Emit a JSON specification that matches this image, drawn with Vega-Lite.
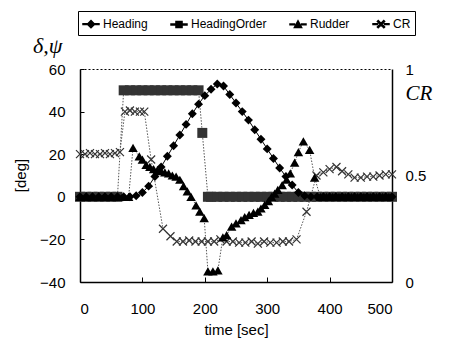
{
  "$schema": "https://vega.github.io/schema/vega-lite/v6.json",
  "width": 312,
  "height": 213,
  "autosize": {"type": "none"},
  "padding": {"left": 80, "top": 69, "right": 78, "bottom": 60},
  "background": "white",
  "title": {"text": "δ,ψ", "anchor": "start", "frame": "group", "dx": -47, "offset": -47, "font": "Liberation Serif", "fontStyle": "italic", "fontSize": 22, "fontWeight": "normal", "color": "black"},
  "config": {
    "view": {"stroke": null},
    "axis": {"domainColor": "black", "domainWidth": 1.5, "labelColor": "black", "labelFont": "Liberation Sans", "labelFontSize": 15, "tickColor": "black", "grid": false, "titleFont": "Liberation Sans", "titleFontSize": 15, "titleFontWeight": "normal", "titleColor": "black"},
    "legend": {"labelFont": "Liberation Sans", "labelFontSize": 12, "labelColor": "black"}
  },
  "datasets": {
    "deg": [
      {"s": "HeadingOrder", "t": 0, "v": 0}, {"s": "HeadingOrder", "t": 10, "v": 0}, {"s": "HeadingOrder", "t": 20, "v": 0}, {"s": "HeadingOrder", "t": 30, "v": 0}, {"s": "HeadingOrder", "t": 40, "v": 0}, {"s": "HeadingOrder", "t": 50, "v": 0}, {"s": "HeadingOrder", "t": 60, "v": 0},
      {"s": "HeadingOrder", "t": 70, "v": 50}, {"s": "HeadingOrder", "t": 80, "v": 50}, {"s": "HeadingOrder", "t": 90, "v": 50}, {"s": "HeadingOrder", "t": 100, "v": 50}, {"s": "HeadingOrder", "t": 110, "v": 50}, {"s": "HeadingOrder", "t": 120, "v": 50}, {"s": "HeadingOrder", "t": 130, "v": 50}, {"s": "HeadingOrder", "t": 140, "v": 50}, {"s": "HeadingOrder", "t": 150, "v": 50}, {"s": "HeadingOrder", "t": 160, "v": 50}, {"s": "HeadingOrder", "t": 170, "v": 50}, {"s": "HeadingOrder", "t": 180, "v": 50}, {"s": "HeadingOrder", "t": 190, "v": 50},
      {"s": "HeadingOrder", "t": 196, "v": 30},
      {"s": "HeadingOrder", "t": 205, "v": 0}, {"s": "HeadingOrder", "t": 210, "v": 0}, {"s": "HeadingOrder", "t": 220, "v": 0}, {"s": "HeadingOrder", "t": 230, "v": 0}, {"s": "HeadingOrder", "t": 240, "v": 0}, {"s": "HeadingOrder", "t": 250, "v": 0}, {"s": "HeadingOrder", "t": 260, "v": 0}, {"s": "HeadingOrder", "t": 270, "v": 0}, {"s": "HeadingOrder", "t": 280, "v": 0}, {"s": "HeadingOrder", "t": 290, "v": 0}, {"s": "HeadingOrder", "t": 300, "v": 0}, {"s": "HeadingOrder", "t": 310, "v": 0}, {"s": "HeadingOrder", "t": 320, "v": 0}, {"s": "HeadingOrder", "t": 330, "v": 0}, {"s": "HeadingOrder", "t": 340, "v": 0}, {"s": "HeadingOrder", "t": 350, "v": 0}, {"s": "HeadingOrder", "t": 360, "v": 0}, {"s": "HeadingOrder", "t": 370, "v": 0}, {"s": "HeadingOrder", "t": 380, "v": 0}, {"s": "HeadingOrder", "t": 390, "v": 0}, {"s": "HeadingOrder", "t": 400, "v": 0}, {"s": "HeadingOrder", "t": 410, "v": 0}, {"s": "HeadingOrder", "t": 420, "v": 0}, {"s": "HeadingOrder", "t": 430, "v": 0}, {"s": "HeadingOrder", "t": 440, "v": 0}, {"s": "HeadingOrder", "t": 450, "v": 0}, {"s": "HeadingOrder", "t": 460, "v": 0}, {"s": "HeadingOrder", "t": 470, "v": 0}, {"s": "HeadingOrder", "t": 480, "v": 0}, {"s": "HeadingOrder", "t": 490, "v": 0}, {"s": "HeadingOrder", "t": 500, "v": 0},

      {"s": "Rudder", "t": 0, "v": 0}, {"s": "Rudder", "t": 10, "v": 0}, {"s": "Rudder", "t": 20, "v": 0}, {"s": "Rudder", "t": 30, "v": 0}, {"s": "Rudder", "t": 40, "v": 0}, {"s": "Rudder", "t": 50, "v": 0}, {"s": "Rudder", "t": 60, "v": 0}, {"s": "Rudder", "t": 70, "v": 0}, {"s": "Rudder", "t": 78, "v": 0},
      {"s": "Rudder", "t": 85, "v": 23}, {"s": "Rudder", "t": 95, "v": 19}, {"s": "Rudder", "t": 100, "v": 17.5}, {"s": "Rudder", "t": 106, "v": 15}, {"s": "Rudder", "t": 112, "v": 14}, {"s": "Rudder", "t": 118, "v": 13}, {"s": "Rudder", "t": 124, "v": 12.5}, {"s": "Rudder", "t": 130, "v": 12}, {"s": "Rudder", "t": 136, "v": 11.5}, {"s": "Rudder", "t": 142, "v": 11}, {"s": "Rudder", "t": 148, "v": 10}, {"s": "Rudder", "t": 154, "v": 9.5}, {"s": "Rudder", "t": 160, "v": 8}, {"s": "Rudder", "t": 166, "v": 5}, {"s": "Rudder", "t": 172, "v": 2.5}, {"s": "Rudder", "t": 178, "v": 0}, {"s": "Rudder", "t": 186, "v": -4}, {"s": "Rudder", "t": 192, "v": -7}, {"s": "Rudder", "t": 199, "v": -10},
      {"s": "Rudder", "t": 205, "v": -35}, {"s": "Rudder", "t": 213, "v": -35}, {"s": "Rudder", "t": 221, "v": -34.5}, {"s": "Rudder", "t": 229, "v": -19}, {"s": "Rudder", "t": 235, "v": -18}, {"s": "Rudder", "t": 243, "v": -14}, {"s": "Rudder", "t": 250, "v": -12.5}, {"s": "Rudder", "t": 258, "v": -11}, {"s": "Rudder", "t": 264, "v": -9.5}, {"s": "Rudder", "t": 271, "v": -8.5}, {"s": "Rudder", "t": 278, "v": -7.5}, {"s": "Rudder", "t": 285, "v": -7}, {"s": "Rudder", "t": 290, "v": -5.5}, {"s": "Rudder", "t": 296, "v": -3.8}, {"s": "Rudder", "t": 302, "v": -2}, {"s": "Rudder", "t": 307, "v": 0}, {"s": "Rudder", "t": 312, "v": 1.5}, {"s": "Rudder", "t": 317, "v": 3.3}, {"s": "Rudder", "t": 324, "v": 5.5}, {"s": "Rudder", "t": 331, "v": 8}, {"s": "Rudder", "t": 337, "v": 11}, {"s": "Rudder", "t": 344, "v": 16}, {"s": "Rudder", "t": 350, "v": 21}, {"s": "Rudder", "t": 358, "v": 26}, {"s": "Rudder", "t": 368, "v": 22}, {"s": "Rudder", "t": 376, "v": 9},
      {"s": "Rudder", "t": 385, "v": 0}, {"s": "Rudder", "t": 395, "v": 0}, {"s": "Rudder", "t": 405, "v": 0}, {"s": "Rudder", "t": 415, "v": 0}, {"s": "Rudder", "t": 425, "v": 0}, {"s": "Rudder", "t": 435, "v": 0}, {"s": "Rudder", "t": 445, "v": 0}, {"s": "Rudder", "t": 455, "v": 0}, {"s": "Rudder", "t": 465, "v": 0}, {"s": "Rudder", "t": 475, "v": 0}, {"s": "Rudder", "t": 485, "v": 0}, {"s": "Rudder", "t": 495, "v": 0},

      {"s": "Heading", "t": 0, "v": 0}, {"s": "Heading", "t": 10, "v": 0}, {"s": "Heading", "t": 20, "v": 0}, {"s": "Heading", "t": 30, "v": 0}, {"s": "Heading", "t": 40, "v": 0}, {"s": "Heading", "t": 50, "v": 0}, {"s": "Heading", "t": 60, "v": 0}, {"s": "Heading", "t": 70, "v": 0}, {"s": "Heading", "t": 80, "v": 0},
      {"s": "Heading", "t": 90, "v": 0.5}, {"s": "Heading", "t": 100, "v": 2}, {"s": "Heading", "t": 110, "v": 5}, {"s": "Heading", "t": 120, "v": 9.5}, {"s": "Heading", "t": 130, "v": 14}, {"s": "Heading", "t": 140, "v": 19}, {"s": "Heading", "t": 150, "v": 24}, {"s": "Heading", "t": 160, "v": 29}, {"s": "Heading", "t": 170, "v": 34}, {"s": "Heading", "t": 180, "v": 39}, {"s": "Heading", "t": 190, "v": 43.5}, {"s": "Heading", "t": 200, "v": 47.5}, {"s": "Heading", "t": 210, "v": 50.5}, {"s": "Heading", "t": 220, "v": 53}, {"s": "Heading", "t": 230, "v": 52}, {"s": "Heading", "t": 240, "v": 48}, {"s": "Heading", "t": 250, "v": 44}, {"s": "Heading", "t": 260, "v": 40}, {"s": "Heading", "t": 270, "v": 36}, {"s": "Heading", "t": 280, "v": 31.5}, {"s": "Heading", "t": 290, "v": 27}, {"s": "Heading", "t": 300, "v": 22.5}, {"s": "Heading", "t": 310, "v": 18}, {"s": "Heading", "t": 320, "v": 13.5}, {"s": "Heading", "t": 330, "v": 9.5}, {"s": "Heading", "t": 340, "v": 5.5}, {"s": "Heading", "t": 350, "v": 2}, {"s": "Heading", "t": 360, "v": 0.5},
      {"s": "Heading", "t": 370, "v": 0}, {"s": "Heading", "t": 380, "v": 0}, {"s": "Heading", "t": 390, "v": 0}, {"s": "Heading", "t": 400, "v": 0}, {"s": "Heading", "t": 410, "v": 0}, {"s": "Heading", "t": 420, "v": 0}, {"s": "Heading", "t": 430, "v": 0}, {"s": "Heading", "t": 440, "v": 0}, {"s": "Heading", "t": 450, "v": 0}, {"s": "Heading", "t": 460, "v": 0}, {"s": "Heading", "t": 470, "v": 0}, {"s": "Heading", "t": 480, "v": 0}, {"s": "Heading", "t": 490, "v": 0}, {"s": "Heading", "t": 500, "v": 0}
    ],
    "cr": [
      {"t": 0, "cr": 0.6}, {"t": 8, "cr": 0.6}, {"t": 16, "cr": 0.605}, {"t": 24, "cr": 0.6}, {"t": 32, "cr": 0.6}, {"t": 40, "cr": 0.605}, {"t": 48, "cr": 0.6}, {"t": 56, "cr": 0.605}, {"t": 64, "cr": 0.61},
      {"t": 72, "cr": 0.8}, {"t": 80, "cr": 0.805}, {"t": 88, "cr": 0.8}, {"t": 96, "cr": 0.8}, {"t": 103, "cr": 0.8},
      {"t": 114, "cr": 0.575}, {"t": 133, "cr": 0.25}, {"t": 145, "cr": 0.215}, {"t": 155, "cr": 0.19}, {"t": 165, "cr": 0.19}, {"t": 175, "cr": 0.195}, {"t": 185, "cr": 0.19}, {"t": 195, "cr": 0.19}, {"t": 205, "cr": 0.19}, {"t": 215, "cr": 0.19}, {"t": 225, "cr": 0.2}, {"t": 235, "cr": 0.19}, {"t": 245, "cr": 0.19}, {"t": 255, "cr": 0.185}, {"t": 265, "cr": 0.185}, {"t": 275, "cr": 0.19}, {"t": 285, "cr": 0.18}, {"t": 295, "cr": 0.19}, {"t": 305, "cr": 0.185}, {"t": 315, "cr": 0.185}, {"t": 325, "cr": 0.19}, {"t": 335, "cr": 0.19}, {"t": 347, "cr": 0.2},
      {"t": 363, "cr": 0.33}, {"t": 379, "cr": 0.5}, {"t": 390, "cr": 0.515}, {"t": 400, "cr": 0.53}, {"t": 411, "cr": 0.54}, {"t": 420, "cr": 0.52}, {"t": 430, "cr": 0.505}, {"t": 440, "cr": 0.49}, {"t": 450, "cr": 0.49}, {"t": 460, "cr": 0.495}, {"t": 470, "cr": 0.495}, {"t": 480, "cr": 0.5}, {"t": 490, "cr": 0.505}, {"t": 500, "cr": 0.505}
    ]
  },
  "layer": [
    {
      "data": {"name": "deg"},
      "mark": {"type": "point", "filled": true, "fill": "black", "stroke": "black", "strokeWidth": 1, "opacity": 0},
      "encoding": {
        "x": {"field": "t", "type": "quantitative", "scale": {"domain": [0, 500], "nice": false},
          "axis": {"orient": "bottom", "values": [0, 100, 200, 300, 400, 500], "title": "time [sec]", "tickSize": -5, "labelPadding": 24, "titleY": 40, "titleBaseline": "top"}},
        "y": {"field": "v", "type": "quantitative", "scale": {"domain": [-40, 60], "nice": false, "zero": false},
          "axis": {"orient": "left", "values": [-40, -20, 0, 20, 40, 60], "title": "[deg]", "tickSize": -4, "labelPadding": 19, "titleX": -60, "titleY": 106, "titleAngle": -90, "titleAlign": "center", "titleBaseline": "middle"}},
        "shape": {"field": "s", "type": "nominal",
          "scale": {"domain": ["Heading", "HeadingOrder", "Rudder", "CR"],
            "range": [
              "M-1,-0.05H1V0.05H-1ZM0,-0.45L0.45,0L0,0.45L-0.45,0Z",
              "M-1,-0.05H-0.8V0.05H-1ZM-0.65,-0.05H-0.45V0.05H-0.65ZM0.45,-0.05H0.65V0.05H0.45ZM0.8,-0.05H1V0.05H0.8ZM-0.38,-0.38H0.38V0.38H-0.38Z",
              "M-1,-0.05H-0.8V0.05H-1ZM-0.65,-0.05H-0.45V0.05H-0.65ZM0.45,-0.05H0.65V0.05H0.45ZM0.8,-0.05H1V0.05H0.8ZM0,-0.45L0.45,0.4H-0.45Z",
              "M-1,-0.05H-0.8V0.05H-1ZM-0.65,-0.05H-0.45V0.05H-0.65ZM0.45,-0.05H0.65V0.05H0.45ZM0.8,-0.05H1V0.05H0.8ZM-0.35,-0.45L0.45,0.35L0.35,0.45L-0.45,-0.35ZM0.35,-0.45L-0.45,0.35L-0.35,0.45L0.45,-0.35Z"
            ]},
          "legend": {"orient": "none", "legendX": -2, "legendY": -58, "direction": "horizontal", "columns": 4, "title": null, "strokeColor": "black", "padding": 4, "symbolSize": 256, "columnPadding": 20, "labelOffset": 3,
            "symbolFillColor": "black", "symbolOpacity": 1,
            "encode": {"symbols": {"update": {"opacity": {"value": 1}, "fillOpacity": {"value": 1}, "fill": {"value": "black"}}}}}
        }
      }
    },
    {
      "data": {"name": "deg"},
      "transform": [{"filter": "datum.s === 'HeadingOrder'"}],
      "mark": {"type": "line", "strokeDash": [1.5, 1.5], "color": "#555", "strokeWidth": 1},
      "encoding": {
        "x": {"field": "t", "type": "quantitative", "scale": {"domain": [0, 500], "nice": false}, "axis": null},
        "y": {"field": "v", "type": "quantitative", "scale": {"domain": [-40, 60], "nice": false, "zero": false}, "axis": null}
      }
    },
    {
      "data": {"name": "deg"},
      "transform": [{"filter": "datum.s === 'HeadingOrder'"}],
      "mark": {"type": "point", "shape": "square", "filled": true, "size": 100, "color": "#333", "opacity": 1},
      "encoding": {
        "x": {"field": "t", "type": "quantitative", "scale": {"domain": [0, 500], "nice": false}, "axis": null},
        "y": {"field": "v", "type": "quantitative", "scale": {"domain": [-40, 60], "nice": false, "zero": false}, "axis": null}
      }
    },
    {
      "data": {"name": "cr"},
      "mark": {"type": "line", "strokeDash": [1.5, 1.5], "color": "#555", "strokeWidth": 1},
      "encoding": {
        "x": {"field": "t", "type": "quantitative", "scale": {"domain": [0, 500], "nice": false},
          "axis": {"orient": "top", "labels": false, "ticks": false, "title": null, "domainDash": [2, 2], "domainWidth": 1, "domainColor": "black"}},
        "y": {"field": "cr", "type": "quantitative", "scale": {"domain": [0, 1], "nice": false, "zero": false},
          "axis": {"orient": "right", "values": [0, 0.5, 1], "format": "~g", "ticks": false, "labelPadding": 13, "title": "CR", "titleAngle": 0, "titleX": 13, "titleY": 24, "titleAlign": "left", "titleBaseline": "middle", "titleFont": "Liberation Serif", "titleFontStyle": "italic", "titleFontSize": 21}}
      }
    },
    {
      "data": {"name": "cr"},
      "mark": {"type": "point", "shape": "M-1,-1L1,1M1,-1L-1,1", "filled": false, "size": 64, "color": "#333", "strokeWidth": 1.2, "opacity": 1},
      "encoding": {
        "x": {"field": "t", "type": "quantitative", "scale": {"domain": [0, 500], "nice": false}, "axis": null},
        "y": {"field": "cr", "type": "quantitative", "scale": {"domain": [0, 1], "nice": false, "zero": false}, "axis": null}
      }
    },
    {
      "data": {"name": "deg"},
      "transform": [{"filter": "datum.s === 'Rudder'"}],
      "mark": {"type": "line", "strokeDash": [1.5, 1.5], "color": "#555", "strokeWidth": 1},
      "encoding": {
        "x": {"field": "t", "type": "quantitative", "scale": {"domain": [0, 500], "nice": false}, "axis": null},
        "y": {"field": "v", "type": "quantitative", "scale": {"domain": [-40, 60], "nice": false, "zero": false}, "axis": null}
      }
    },
    {
      "data": {"name": "deg"},
      "transform": [{"filter": "datum.s === 'Rudder'"}],
      "mark": {"type": "point", "shape": "triangle-up", "filled": true, "size": 90, "color": "black", "opacity": 1},
      "encoding": {
        "x": {"field": "t", "type": "quantitative", "scale": {"domain": [0, 500], "nice": false}, "axis": null},
        "y": {"field": "v", "type": "quantitative", "scale": {"domain": [-40, 60], "nice": false, "zero": false}, "axis": null}
      }
    },
    {
      "data": {"name": "deg"},
      "transform": [{"filter": "datum.s === 'Heading'"}],
      "mark": {"type": "line", "color": "black", "strokeWidth": 1},
      "encoding": {
        "x": {"field": "t", "type": "quantitative", "scale": {"domain": [0, 500], "nice": false}, "axis": null},
        "y": {"field": "v", "type": "quantitative", "scale": {"domain": [-40, 60], "nice": false, "zero": false}, "axis": null}
      }
    },
    {
      "data": {"name": "deg"},
      "transform": [{"filter": "datum.s === 'Heading'"}],
      "mark": {"type": "point", "shape": "diamond", "filled": true, "size": 80, "color": "black", "opacity": 1},
      "encoding": {
        "x": {"field": "t", "type": "quantitative", "scale": {"domain": [0, 500], "nice": false}, "axis": null},
        "y": {"field": "v", "type": "quantitative", "scale": {"domain": [-40, 60], "nice": false, "zero": false}, "axis": null}
      }
    }
  ],
  "resolve": {"scale": {"y": "independent"}, "axis": {"x": "independent", "y": "independent"}}
}
